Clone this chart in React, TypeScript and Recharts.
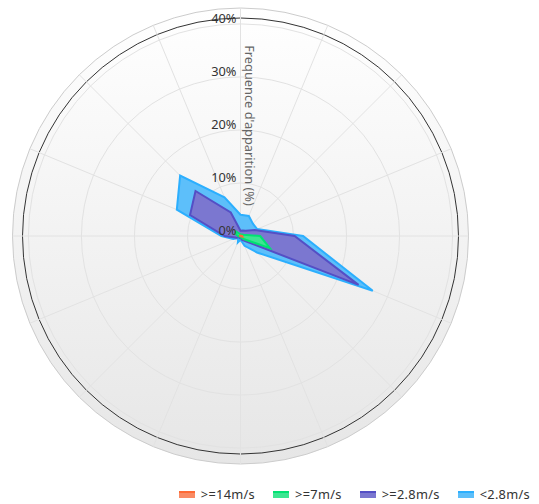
import React from "react";
import {
  RadarChart,
  Radar,
  PolarGrid,
  PolarAngleAxis,
  PolarRadiusAxis,
  Legend,
} from "recharts";

const WIDTH = 539;
const HEIGHT = 504;
const CX = 240.5;
const CY = 236;
const PANE_RADIUS = 228;
const PLOT_RADIUS = 218;
const RADIUS_MAX = 42.7; // % value reached at PANE_RADIUS
const FONT = '"Segoe UI", "Noto Sans", "Open Sans", sans-serif';

const directions = [
  "N", "NNE", "NE", "ENE", "E", "ESE", "SE", "SSE",
  "S", "SSW", "SW", "WSW", "W", "WNW", "NW", "NNW",
];

// frequences (%) par direction
const below2_8 = [4.0, 4.1, 3.3, 3.4, 11.8, 27.0, 4.4, 2.0, 0.7, 1.3, 0.6, 1.5, 3.6, 13.0, 16.1, 7.9];
const above2_8 = [1.0, 1.1, 1.4, 2.9, 10.2, 24.1, 1.4, 0.8, 0.3, 0.4, 0.3, 0.8, 3.0, 10.3, 12.0, 4.8];
const above7 = [0.2, 0.3, 0.4, 0.6, 3.7, 6.0, 0.8, 0.3, 0.1, 0.1, 0.1, 0.3, 0.5, 1.0, 1.2, 0.4];
const above14 = [0.05, 0.05, 0.05, 0.1, 0.3, 0.4, 0.1, 0.05, 0, 0, 0, 0, 0.05, 0.1, 0.1, 0.05];

const radialTicks = [0, 10, 20, 30, 40];
const axisTitle = "Frequence d'apparition (%)";

const series = [
  { key: "lt2_8", name: "<2.8m/s", values: below2_8, stroke: "#2caffe", fill: "#5dbffa" },
  { key: "ge2_8", name: ">=2.8m/s", values: above2_8, stroke: "#544fc5", fill: "#7b77d0" },
  { key: "ge7", name: ">=7m/s", values: above7, stroke: "#00e272", fill: "#3ce691" },
  { key: "ge14", name: ">=14m/s", values: above14, stroke: "#fe6a35", fill: "#fa8b64" },
];

const data = directions.map((dir, i) => {
  const row: Record<string, string | number> = { dir };
  series.forEach((s) => {
    row[s.key] = s.values[i];
  });
  return row;
});

const RadiusTick = (props: any) => {
  const { x, y, payload } = props;
  return (
    <text
      x={x - 4}
      y={y - 1}
      textAnchor="end"
      fontSize={12.8}
      fill="#333333"
      fontFamily={FONT}
    >
      {payload.value}%
    </text>
  );
};

const LegendContent = () => (
  <div
    style={{
      display: "flex",
      justifyContent: "flex-end",
      alignItems: "center",
      fontFamily: FONT,
      fontSize: 12.8,
      color: "#333333",
      lineHeight: "18px",
    }}
  >
    {[...series].reverse().map((s) => (
      <div
        key={s.key}
        style={{ display: "flex", alignItems: "center", marginLeft: 18 }}
      >
        <svg width={16} height={8}>
          <rect x={0} y={2} width={16} height={6} fill={s.fill} />
          <line x1={0} y1={2} x2={16} y2={2} stroke={s.stroke} strokeWidth={2} />
        </svg>
        <span style={{ marginLeft: 6, letterSpacing: 0.3 }}>{s.name}</span>
      </div>
    ))}
  </div>
);

const titleX = CX + 4.5;
const titleY = CY - 110.5;

export default function App() {
  return (
    <div style={{ position: "absolute", left: 0, top: 0, width: WIDTH, height: HEIGHT }}>
      <svg
        width={WIDTH}
        height={HEIGHT}
        style={{ position: "absolute", left: 0, top: 0 }}
      >
        <defs>
          <linearGradient id="paneBg" x1="0" y1="0" x2="0" y2="1">
            <stop offset="0" stopColor="#ffffff" />
            <stop offset="1" stopColor="#e6e6e6" />
          </linearGradient>
        </defs>
        <circle cx={CX} cy={CY} r={PANE_RADIUS} fill="url(#paneBg)" stroke="#cccccc" />
        <circle cx={CX} cy={CY} r={PLOT_RADIUS} fill="none" stroke="#333333" />
      </svg>
      <RadarChart
        width={WIDTH}
        height={HEIGHT}
        data={data}
        cx={CX}
        cy={CY}
        outerRadius={PANE_RADIUS}
        margin={{ top: 0, right: 0, bottom: 0, left: 0 }}
      >
        <PolarGrid stroke="#e2e2e2" gridType="circle" />
        <PolarAngleAxis dataKey="dir" tick={false} axisLine={false} tickLine={false} />
        <PolarRadiusAxis
          angle={90}
          type="number"
          domain={[0, RADIUS_MAX]}
          ticks={radialTicks}
          tick={RadiusTick}
          axisLine={false}
          tickLine={false}
        />
        {series.map((s) => (
          <Radar
            key={s.key}
            name={s.name}
            dataKey={s.key}
            stroke={s.stroke}
            strokeWidth={2}
            fill={s.fill}
            fillOpacity={1}
            dot={false}
            isAnimationActive={false}
          />
        ))}
        <Legend
          content={LegendContent}
          wrapperStyle={{ left: 0, top: 485, width: 530, height: 18, right: undefined, bottom: undefined }}
        />
      </RadarChart>
      <svg
        width={WIDTH}
        height={HEIGHT}
        style={{ position: "absolute", left: 0, top: 0, pointerEvents: "none" }}
      >
        <text
          x={titleX}
          y={titleY}
          transform={`rotate(90, ${titleX}, ${titleY})`}
          textAnchor="middle"
          fontSize={12.8}
          fill="#666666"
          fontFamily={FONT}
        >
          {axisTitle}
        </text>
      </svg>
    </div>
  );
}
